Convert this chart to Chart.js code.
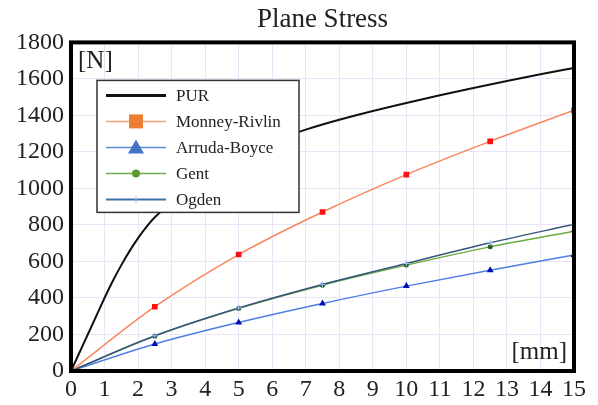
<!DOCTYPE html>
<html>
<head>
<meta charset="utf-8">
<script src="https://cdn.jsdelivr.net/npm/chart.js@4"></script>
<style>
  html, body { margin: 0; padding: 0; background: #fff; }
  #wrap { width: 598px; height: 405px; }
</style>
</head>
<body>
<div id="wrap"><canvas id="chart"></canvas></div>
<script>
// displacement [mm] where the models were evaluated
var modelX = [0, 2.5, 5, 7.5, 10, 12.5, 15];
var monneyRivlin = [0, 352, 638, 871, 1076, 1258, 1428];
var arrudaBoyce = [0, 148, 266, 370, 465, 552, 635];
var gent = [0, 191, 343, 470, 580, 680, 766];
var ogden = [0, 193, 345, 474, 589, 702, 804];

// measured PUR curve
var purX = [0, 0.25, 0.5, 0.75, 1, 1.25, 1.5, 1.75, 2, 2.25, 2.5, 2.75, 3, 3.5, 4, 4.5, 5, 5.5, 6, 6.5, 7, 7.5, 8, 9, 10, 11, 12, 13, 14, 15];
var purY = [0, 100, 200, 300, 400, 494, 580, 658, 728, 790, 842, 885, 925, 998, 1062, 1120, 1172, 1218, 1258, 1292, 1322, 1350, 1376, 1424, 1468, 1510, 1550, 1588, 1625, 1660];

var xTicks = [0, 1, 2, 3, 4, 5, 6, 7, 8, 9, 10, 11, 12, 13, 14, 15];
var yTicks = [0, 200, 400, 600, 800, 1000, 1200, 1400, 1600, 1800];

function pts(xs, ys) {
  return xs.map(function (x, i) { return { x: x, y: ys[i] }; });
}

var serif = "'Liberation Serif', 'DejaVu Serif', serif";

var legendItems = [
  { label: "PUR", line: "#111111", width: 3, marker: null },
  { label: "Monney-Rivlin", line: "#f4a070", width: 1.5, marker: "rect", fill: "#ed7d31" },
  { label: "Arruda-Boyce", line: "#5b8bdb", width: 1.5, marker: "triangle", fill: "#4472c4" },
  { label: "Gent", line: "#70ad47", width: 1.5, marker: "circle", fill: "#5a9a35" },
  { label: "Ogden", line: "#3d6ea8", width: 2, marker: "cross", fill: "#a8c8f0" }
];

var framePlugin = {
  id: "frame",
  afterDatasetsDraw: function (chart) {
    var ctx = chart.ctx, a = chart.chartArea;
    ctx.save();
    // legend box
    var lx = a.left + 26, ly = a.top + 38, lw = 202, lh = 132;
    ctx.fillStyle = "#fff";
    ctx.fillRect(lx, ly, lw, lh);
    ctx.strokeStyle = "#333";
    ctx.lineWidth = 1.5;
    ctx.strokeRect(lx, ly, lw, lh);
    ctx.font = "17px " + serif;
    ctx.textBaseline = "middle";
    legendItems.forEach(function (it, i) {
      var y = ly + 15 + i * 26;
      var x0 = lx + 9, x1 = lx + 69, xm = (x0 + x1) / 2;
      ctx.strokeStyle = it.line;
      ctx.lineWidth = it.width;
      ctx.beginPath(); ctx.moveTo(x0, y); ctx.lineTo(x1, y); ctx.stroke();
      ctx.fillStyle = it.fill;
      if (it.marker === "rect") {
        ctx.fillRect(xm - 7, y - 7, 14, 14);
      } else if (it.marker === "triangle") {
        ctx.beginPath(); ctx.moveTo(xm, y - 8); ctx.lineTo(xm + 8, y + 6); ctx.lineTo(xm - 8, y + 6); ctx.closePath(); ctx.fill();
      } else if (it.marker === "circle") {
        ctx.beginPath(); ctx.arc(xm, y, 4, 0, Math.PI * 2); ctx.fill();
      } else if (it.marker === "cross") {
        ctx.strokeStyle = it.fill; ctx.lineWidth = 1;
        ctx.beginPath(); ctx.moveTo(xm, y - 4); ctx.lineTo(xm, y + 4); ctx.stroke();
      }
      ctx.fillStyle = "#222";
      ctx.fillText(it.label, lx + 79, y + 1);
    });
    // unit labels
    ctx.font = "25px " + serif;
    ctx.fillStyle = "#222";
    ctx.textBaseline = "alphabetic";
    ctx.textAlign = "left";
    ctx.fillText("[N]", a.left + 7, a.top + 26);
    ctx.textAlign = "right";
    ctx.fillText("[mm]", a.right - 7, a.bottom - 12);
    // thick frame
    ctx.strokeStyle = "#000";
    ctx.lineWidth = 4;
    ctx.strokeRect(a.left, a.top, a.right - a.left, a.bottom - a.top);
    ctx.restore();
  }
};

new Chart(document.getElementById("chart"), {
  type: "line",
  data: {
    datasets: [
      { label: "PUR", data: pts(purX, purY), borderColor: "#111", borderWidth: 2, pointRadius: 0, cubicInterpolationMode: "monotone" },
      { label: "Monney-Rivlin", data: pts(modelX, monneyRivlin), borderColor: "#f7875a", borderWidth: 1.5,
        pointStyle: "rect", pointRadius: 4, pointBackgroundColor: "#ff1010", pointBorderColor: "#ff1010", pointBorderWidth: 0, cubicInterpolationMode: "monotone" },
      { label: "Ogden", data: pts(modelX, ogden), borderColor: "#36557e", borderWidth: 1.5,
        pointStyle: "cross", pointRadius: 3, pointBorderColor: "#9cc0f5", pointBorderWidth: 1, cubicInterpolationMode: "monotone" },
      { label: "Gent", data: pts(modelX, gent), borderColor: "#6aab3e", borderWidth: 1.5,
        pointStyle: "circle", pointRadius: 2.5, pointBackgroundColor: "#1f5e1f", pointBorderColor: "#1f5e1f", pointBorderWidth: 0, cubicInterpolationMode: "monotone" },
      { label: "Arruda-Boyce", data: pts(modelX, arrudaBoyce), borderColor: "#4f7fe6", borderWidth: 1.5,
        pointStyle: "triangle", pointRadius: 4, pointBackgroundColor: "#0010b0", pointBorderColor: "#0010b0", pointBorderWidth: 0, cubicInterpolationMode: "monotone" }
    ]
  },
  options: {
    responsive: true,
    maintainAspectRatio: false,
    animation: false,
    layout: { padding: { right: 24, left: 0, bottom: 0, top: 0 } },
    plugins: {
      legend: { display: false },
      tooltip: { enabled: false },
      title: {
        display: true,
        fullSize: false,
        text: "Plane Stress",
        color: "#222",
        font: { family: serif, size: 27, weight: "normal", lineHeight: 1.2 },
        padding: { top: 4, bottom: 6 }
      }
    },
    scales: {
      x: {
        type: "linear", min: 0, max: 15,
        afterFit: function (s) { s.height = 34; },
        afterBuildTicks: function (s) { s.ticks = xTicks.map(function (v) { return { value: v }; }); },
        grid: { color: "#e6e6f8", drawTicks: false },
        border: { display: false },
        ticks: { color: "#222", padding: 4, font: { family: serif, size: 24 } }
      },
      y: {
        min: 0, max: 1800,
        afterFit: function (s) { s.width = 71; },
        afterBuildTicks: function (s) { s.ticks = yTicks.map(function (v) { return { value: v }; }); },
        grid: { color: "#e6e6f8", drawTicks: false },
        border: { display: false },
        ticks: { color: "#222", padding: 7, font: { family: serif, size: 24 },
          callback: function (v) { return String(v); } }
      }
    }
  },
  plugins: [framePlugin]
});
</script>
</body>
</html>
